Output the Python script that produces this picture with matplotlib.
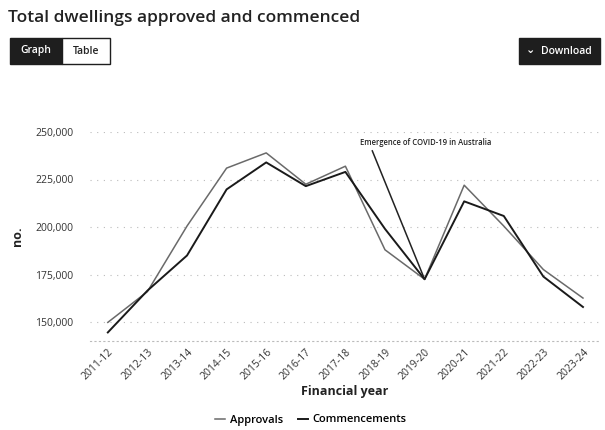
import matplotlib
matplotlib.use("Agg")
import matplotlib.pyplot as plt
from matplotlib.patches import Rectangle
from matplotlib.ticker import FuncFormatter

plt.rcParams['font.family'] = ['Open Sans', 'DejaVu Sans']

years = ["2011-12", "2012-13", "2013-14", "2014-15", "2015-16", "2016-17", "2017-18",
         "2018-19", "2019-20", "2020-21", "2021-22", "2022-23", "2023-24"]
approvals = [149800, 166000, 200500, 231000, 239000, 222500, 232000,
             188000, 172500, 222000, 200500, 177600, 162600]
commencements = [144500, 166500, 185000, 219800, 234000, 221500, 229000,
                 199000, 172500, 213500, 205800, 173900, 157900]
yticks = [150000, 175000, 200000, 225000, 250000]
covid_label = "Emergence of COVID-19 in Australia"
covid_year = "2019-20"

W, H = 605, 430
fig = plt.figure(figsize=(W / 100, H / 100), dpi=100)

def fx(px):
    return px / W

def fy(py):
    return 1 - py / H

ax = fig.add_axes([fx(90), fy(341), fx(600) - fx(90), fy(132) - fy(341)])
x = list(range(len(years)))
ax.plot(x, approvals, color="#6a6a6a", lw=1.1, label="Approvals", zorder=3)
ax.plot(x, commencements, color="#1a1a1a", lw=1.4, label="Commencements", zorder=3)

ax.set_xlim(-0.45, len(years) - 1 + 0.43)
ax.set_ylim(140000, 250000)
ax.set_yticks(yticks)
ax.yaxis.set_major_formatter(FuncFormatter(lambda v, p: f"{int(v):,}"))
ax.set_xticks(x)
ax.set_xticklabels(years, rotation=45, ha="right", rotation_mode="anchor", fontsize=7.5, color="#333333")
ax.tick_params(axis="y", length=0, labelsize=7.5, labelcolor="#333333", pad=12)
ax.tick_params(axis="x", length=0, pad=4)
ax.grid(axis="y", color="#bbbbbb", lw=0.8, linestyle=(0, (1, 5)))
for s in ["top", "right", "left"]:
    ax.spines[s].set_visible(False)
ax.spines["bottom"].set_color("#bbbbbb")
ax.spines["bottom"].set_linestyle((0, (1, 3)))
ax.spines["bottom"].set_linewidth(0.8)
ax.set_ylabel("no.", fontsize=9, fontweight="bold", color="#222222", labelpad=8)
ax.set_xlabel("Financial year", fontsize=9, fontweight="bold", color="#222222", labelpad=2)

ci = years.index(covid_year)
ax.annotate(covid_label, xy=(ci, commencements[ci]), xytext=(ci - 1.63, 244700),
            fontsize=5.5, fontweight="semibold", color="#222222", ha="left", va="center",
            arrowprops=dict(arrowstyle="-", color="#222222", lw=1.1,
                            shrinkA=1, shrinkB=0, relpos=(0.08, 0.0)))

leg = fig.legend(loc="center", bbox_to_anchor=(fx(311), fy(420)), ncol=2, frameon=False,
                 prop={"size": 8, "weight": "semibold"}, handlelength=0.9,
                 columnspacing=1.4, handletextpad=0.4)

# title and buttons
fig.text(fx(8), fy(18), "Total dwellings approved and commenced", fontsize=12.5,
         fontweight="semibold", color="#222222", va="center", ha="left")
fig.patches.append(Rectangle((fx(10), fy(64)), fx(52) - fx(0), fy(38) - fy(64),
                             transform=fig.transFigure, facecolor="#1e1e1e", edgecolor="#1e1e1e"))
fig.patches.append(Rectangle((fx(62), fy(64)), fx(48) - fx(0), fy(38) - fy(64),
                             transform=fig.transFigure, facecolor="white", edgecolor="#1e1e1e", lw=1))
fig.text(fx(36), fy(51), "Graph", fontsize=7.5, color="white", ha="center", va="center",
         fontweight="semibold")
fig.text(fx(86), fy(51), "Table", fontsize=7.5, color="#222222", ha="center", va="center",
         fontweight="semibold")
fig.patches.append(Rectangle((fx(519), fy(64)), fx(81) - fx(0), fy(38) - fy(64),
                             transform=fig.transFigure, facecolor="#1e1e1e", edgecolor="#1e1e1e"))
fig.text(fx(566), fy(51), "Download", fontsize=7.5, color="white", ha="center", va="center",
         fontweight="semibold")
fig.text(fx(531), fy(50), "\u2304", fontsize=8, color="white", ha="center", va="center",
         fontweight="bold", family=["DejaVu Sans"])

fig.savefig("out.png", dpi=100, facecolor="white")
